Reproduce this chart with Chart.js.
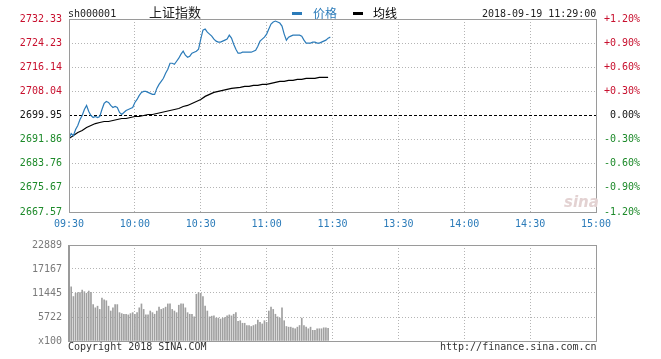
<!DOCTYPE html>
<html>
<head>
<meta charset="utf-8">
<script src="https://cdn.jsdelivr.net/npm/chart.js@4/dist/chart.umd.min.js"></script>
<style>
  body { margin: 0; background: #fff; }
  #wrap { position: relative; width: 661px; height: 359px; overflow: hidden; background: #fff; }
  canvas { position: absolute; left: 0; }
  .t { position: absolute; white-space: nowrap; font: 10px "DejaVu Sans Mono", monospace; color: #222; line-height: 12px; }
  .cjk { font-family: "Noto Sans CJK SC", sans-serif; }
  .dash { position: absolute; width: 10px; height: 3px; }
</style>
</head>
<body>
<div id="wrap">
  <canvas id="priceChart" width="661" height="232" style="top:0"></canvas>
  <canvas id="volChart" width="661" height="127" style="top:232px"></canvas>

  <div class="t" style="left:68px; top:8px;">sh000001</div>
  <div class="t cjk" style="left:149px; top:4px; font-size:13px; line-height:16px;">上证指数</div>
  <div class="dash" style="left:292px; top:12px; background:#2b7bb9;"></div>
  <div class="t cjk" style="left:313px; top:5px; font-size:12px; line-height:15px; color:#2b7bb9;">价格</div>
  <div class="dash" style="left:353px; top:12px; background:#000;"></div>
  <div class="t cjk" style="left:373px; top:5px; font-size:12px; line-height:15px; color:#000;">均线</div>
  <div class="t" style="left:482px; top:8px;">2018-09-19 11:29:00</div>
  <div class="t" style="left:564px; top:193px; font:italic bold 15px 'DejaVu Sans', sans-serif; color:#e3d2d2;">sina</div>
  <div class="t" style="left:68px; top:341px; color:#333;">Copyright 2018 SINA.COM</div>
  <div class="t" style="left:440px; top:341px; color:#333;">http://finance.sina.com.cn</div>
</div>

<script>
// previous close and axis labels
const prevClose = 2699.95;
const priceTicks = [2667.57, 2675.67, 2683.76, 2691.86, 2699.95, 2708.04, 2716.14, 2724.23, 2732.33];
const pctLabels = ["-1.20%", "-0.90%", "-0.60%", "-0.30%", "0.00%", "+0.30%", "+0.60%", "+0.90%", "+1.20%"];
const timeLabels = ["09:30", "10:00", "10:30", "11:00", "11:30", "13:30", "14:00", "14:30", "15:00"];
const volTicks = [0, 5722, 11445, 17167, 22889];

// one value per minute from 09:30
const price = [
  2692.19, 2693.88, 2693.21, 2695.23, 2696.58, 2698.60, 2699.95, 2701.97, 2703.32, 2701.30,
  2699.95, 2699.28, 2699.61, 2699.28, 2699.61, 2701.97, 2704.00, 2704.67, 2704.33, 2703.32,
  2702.65, 2702.98, 2702.65, 2700.96, 2700.29, 2700.96, 2701.64, 2701.97, 2702.31, 2702.65,
  2704.33, 2705.34, 2706.69, 2707.71, 2708.04, 2708.04, 2707.71, 2707.37, 2707.03, 2707.03,
  2709.05, 2710.40, 2711.41, 2712.43, 2714.11, 2715.46, 2717.48, 2717.48, 2717.15, 2718.16,
  2719.17, 2720.52, 2721.53, 2720.18, 2719.51, 2719.84, 2720.85, 2721.19, 2721.53, 2722.20,
  2725.57, 2728.61, 2728.95, 2727.93, 2727.26, 2726.59, 2725.57, 2724.90, 2724.56, 2724.56,
  2724.90, 2725.24, 2725.57, 2726.92, 2725.91, 2723.89, 2722.20, 2720.85, 2720.85, 2721.19,
  2721.19, 2721.19, 2721.19, 2721.19, 2721.53, 2721.87, 2723.21, 2724.90, 2725.57, 2726.25,
  2727.26, 2728.95, 2730.63, 2731.31, 2731.64, 2731.31, 2730.97, 2729.96, 2727.26, 2725.24,
  2726.25, 2726.59, 2726.92, 2726.92, 2726.92, 2726.92, 2726.59, 2725.24, 2724.23, 2724.23,
  2724.23, 2724.56, 2724.56, 2724.23, 2724.23, 2724.56, 2724.90, 2725.24, 2725.91, 2726.25
];

// average line, read every 2 minutes
const avgLine = [
  2692.19, 2693.21, 2694.22, 2694.89, 2695.90, 2696.58, 2697.25, 2697.59, 2697.93, 2697.93,
  2698.26, 2698.60, 2698.94, 2698.94, 2699.28, 2699.61, 2699.61, 2699.95, 2700.29, 2700.29,
  2700.62, 2700.96, 2701.30, 2701.64, 2701.97, 2702.31, 2702.98, 2703.32, 2704.00, 2704.67,
  2705.34, 2706.36, 2707.03, 2707.71, 2708.04, 2708.38, 2708.72, 2709.05, 2709.22, 2709.39,
  2709.73, 2709.73, 2710.07, 2710.07, 2710.40, 2710.40, 2710.74, 2711.08, 2711.41, 2711.41,
  2711.75, 2711.75, 2712.09, 2712.09, 2712.43, 2712.43, 2712.43, 2712.76, 2712.76, 2712.76
];

// volume per minute (x100)
const volume = [
  13290, 12910, 10600, 11370, 11530, 11530, 12140, 11760, 11370, 11910,
  11600, 8680, 7910, 8300, 7530, 10220, 9830, 9600, 8300, 7150,
  7910, 8680, 8680, 6760, 6530, 6380, 6380, 6220, 6530, 6760,
  6380, 6760, 7910, 8840, 7530, 6220, 6220, 7150, 6760, 6380,
  7150, 8070, 7530, 7760, 8070, 8840, 8840, 7530, 7150, 6760,
  8530, 8840, 8840, 7910, 6760, 6380, 6380, 5760, 11140, 11530,
  11370, 10600, 8300, 7150, 5760, 5920, 5990, 5460, 5460, 5220,
  5460, 5610, 5990, 6220, 5990, 6380, 6760, 4690, 4840, 4230,
  4230, 3690, 3690, 3460, 3690, 3920, 4990, 4460, 4070, 4840,
  4460, 7150, 8070, 7530, 6380, 5760, 5460, 7910, 4840, 3460,
  3300, 3300, 3070, 2920, 3300, 3690, 5460, 3690, 3300, 2920,
  3300, 2540, 2540, 2920, 2920, 2920, 3150, 3150, 3000
];

const monoFont = { family: "'DejaVu Sans Mono', monospace", size: 10 };
const gridColor = "#b4b4b4";

function tickColor(v) {
  if (v > prevClose) return "#c8102e";
  if (v < prevClose) return "#1d8a2a";
  return "#111";
}

const framePlugin = {
  id: "frame",
  afterDraw(chart, args, opts) {
    const a = chart.chartArea;
    const ctx = chart.ctx;
    ctx.save();
    ctx.strokeStyle = "#9a9a9a";
    ctx.lineWidth = 1;
    ctx.strokeRect(Math.round(a.left) + 0.5, Math.round(a.top) + 0.5,
      Math.round(a.right - a.left), Math.round(a.bottom - a.top));
    if (opts.thickLeft) {
      ctx.fillStyle = "#9a9a9a";
      ctx.fillRect(Math.round(a.left) - 1, Math.round(a.top), 2, Math.round(a.bottom - a.top) + 1);
    }
    ctx.restore();
  }
};

const timeAxis = (showLabels, h) => ({
  type: "linear",
  min: 0,
  max: 240,
  offset: false,
  afterBuildTicks: s => { s.ticks = timeLabels.map((t, i) => ({ value: i * 30 })); },
  afterFit: s => { s.height = h; },
  ticks: {
    display: showLabels,
    autoSkip: false,
    maxRotation: 0,
    padding: 6,
    color: "#2b7bb9",
    font: monoFont,
    callback: (v, i) => timeLabels[i]
  },
  grid: { color: gridColor, drawTicks: false, offset: false },
  border: { display: false, dash: [1, 2] }
});

new Chart(document.getElementById("priceChart"), {
  type: "line",
  data: {
    datasets: [
      {
        label: "价格",
        data: price.map((v, i) => ({ x: i, y: v })),
        borderColor: "#2b7bb9",
        borderWidth: 1.2,
        pointRadius: 0,
        tension: 0,
        order: 1
      },
      {
        label: "均线",
        data: avgLine.map((v, i) => ({ x: i * 2, y: v })),
        borderColor: "#000",
        borderWidth: 1.2,
        pointRadius: 0,
        tension: 0,
        order: 2
      },
      {
        label: "prev",
        data: [{ x: 0, y: prevClose }, { x: 240, y: prevClose }],
        borderColor: "#000",
        borderWidth: 1,
        borderDash: [3, 2],
        pointRadius: 0,
        order: 3
      }
    ]
  },
  options: {
    responsive: false,
    animation: false,
    devicePixelRatio: 1,
    layout: { padding: { top: 19, right: 21, left: 0, bottom: 0 } },
    plugins: { legend: { display: false }, tooltip: { enabled: false }, frame: {} },
    scales: {
      x: timeAxis(true, 20),
      y: {
        position: "left",
        min: priceTicks[0],
        max: priceTicks[priceTicks.length - 1],
        afterBuildTicks: s => { s.ticks = priceTicks.map(v => ({ value: v })); },
        afterFit: s => { s.width = 69; },
        ticks: {
          padding: 7,
          font: monoFont,
          color: c => tickColor(c.tick.value),
          callback: v => v.toFixed(2)
        },
        grid: { color: c => (c.tick && c.tick.value === prevClose ? "rgba(0,0,0,0)" : gridColor), drawTicks: false },
        border: { display: false, dash: [1, 2] }
      },
      y2: {
        position: "right",
        min: priceTicks[0],
        max: priceTicks[priceTicks.length - 1],
        afterBuildTicks: s => { s.ticks = priceTicks.map(v => ({ value: v })); },
        afterFit: s => { s.width = 44; },
        ticks: {
          padding: 6,
          crossAlign: "far",
          font: monoFont,
          color: c => tickColor(c.tick.value),
          callback: (v, i) => pctLabels[i]
        },
        grid: { display: false },
        border: { display: false }
      }
    }
  },
  plugins: [framePlugin]
});

new Chart(document.getElementById("volChart"), {
  type: "bar",
  data: {
    datasets: [{
      data: volume.map((v, i) => ({ x: i, y: v })),
      backgroundColor: "#a0a0a0",
      barThickness: 1,
      borderWidth: 0
    }]
  },
  options: {
    responsive: false,
    animation: false,
    devicePixelRatio: 1,
    layout: { padding: { top: 9, right: 65, left: 0, bottom: 0 } },
    plugins: { legend: { display: false }, tooltip: { enabled: false }, frame: { thickLeft: true } },
    scales: {
      x: timeAxis(false, 18),
      y: {
        min: 0,
        max: volTicks[volTicks.length - 1],
        afterBuildTicks: s => { s.ticks = volTicks.map(v => ({ value: v })); },
        afterFit: s => { s.width = 69; },
        ticks: {
          padding: 7,
          font: monoFont,
          color: "#7a7a7a",
          callback: v => (v === 0 ? "x100" : String(v))
        },
        grid: { color: gridColor, drawTicks: false },
        border: { display: false, dash: [1, 2] }
      }
    }
  },
  plugins: [framePlugin]
});
</script>
</body>
</html>
